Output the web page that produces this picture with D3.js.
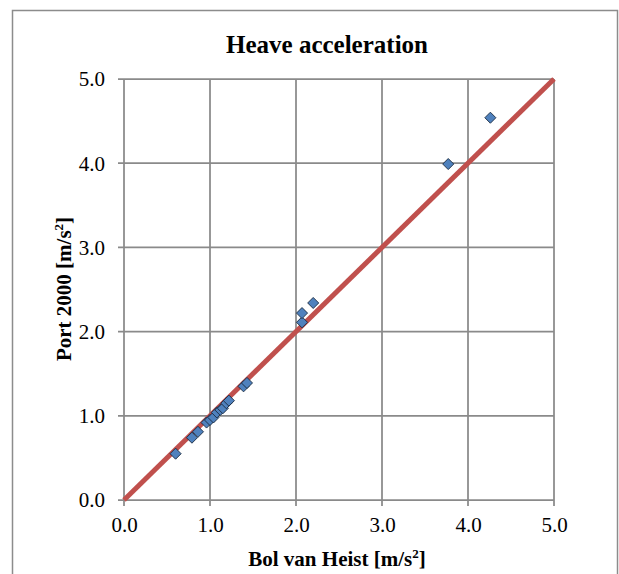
<!DOCTYPE html>
<html>
<head>
<meta charset="utf-8">
<script src="https://cdn.jsdelivr.net/npm/d3@7"></script>
<style>
  html, body { margin: 0; padding: 0; background: #fff; }
  svg { display: block; }
  text { font-family: "Liberation Serif", "Times New Roman", serif; fill: #000; }
</style>
</head>
<body>
<svg id="chart" width="619" height="574"></svg>
<script>
// Measured heave accelerations [m/s²]: Bol van Heist (x) vs Port 2000 (y)
const bolVanHeist = [0.60, 0.79, 0.86, 0.96, 1.00, 1.04, 1.08, 1.12, 1.15, 1.19, 1.22, 1.39, 1.43, 2.07, 2.07, 2.20, 3.77, 4.26];
const port2000    = [0.55, 0.74, 0.81, 0.92, 0.95, 0.98, 1.04, 1.07, 1.09, 1.15, 1.18, 1.35, 1.39, 2.11, 2.22, 2.34, 3.99, 4.54];
// Line of equality y = x
const equalityLine = [[0, 0], [5, 5]];
const tickValues = [0, 1, 2, 3, 4, 5];

const title = "Heave acceleration";
const xTitle = "Bol van Heist [m/s";
const yTitle = "Port 2000 [m/s";

const svg = d3.select("#chart");
const plot = { left: 124, right: 554, top: 79, bottom: 500 };

const x = d3.scaleLinear().domain([0, 5]).range([plot.left, plot.right]);
const y = d3.scaleLinear().domain([0, 5]).range([plot.bottom, plot.top]);

const gridColor = "#8a8a8a";

// Chart frame
svg.append("rect")
  .attr("x", 12.5).attr("y", 10.5)
  .attr("width", 605).attr("height", 600)
  .attr("fill", "none").attr("stroke", "#8c8c8c").attr("stroke-width", 1.5);

// Gridlines
const grid = svg.append("g");
grid.selectAll(".gx").data(tickValues).join("line")
  .attr("x1", d => x(d)).attr("x2", d => x(d))
  .attr("y1", plot.top).attr("y2", plot.bottom + 6)
  .attr("stroke", gridColor).attr("stroke-width", 1.75);
grid.selectAll(".gy").data(tickValues).join("line")
  .attr("x1", plot.left - 6).attr("x2", plot.right)
  .attr("y1", d => y(d)).attr("y2", d => y(d))
  .attr("stroke", gridColor).attr("stroke-width", 1.75);

// Axes (tick labels only; lines come from grid)
const fmt = d3.format(".1f");
const xAxis = svg.append("g")
  .attr("transform", `translate(0,${plot.bottom})`)
  .call(d3.axisBottom(x).tickValues(tickValues).tickFormat(fmt).tickSize(0).tickPadding(0));
xAxis.select(".domain").remove();
xAxis.selectAll("text").attr("y", 32).attr("dy", 0)
  .style("font-size", "21px").attr("fill", "#000");

const yAxis = svg.append("g")
  .attr("transform", `translate(${plot.left},0)`)
  .call(d3.axisLeft(y).tickValues(tickValues).tickFormat(fmt).tickSize(0).tickPadding(0));
yAxis.select(".domain").remove();
yAxis.selectAll("text").attr("x", -19).attr("dy", "0.33em")
  .style("font-size", "21px").attr("fill", "#000");

// Equality line
svg.append("path")
  .datum(equalityLine)
  .attr("d", d3.line().x(d => x(d[0])).y(d => y(d[1])))
  .attr("stroke", "#c0504d").attr("stroke-width", 5).attr("fill", "none");

// Data markers (diamonds)
const diamond = d3.symbol().type(d3.symbolDiamond2).size(78);
svg.append("g").selectAll("path")
  .data(bolVanHeist.map((v, i) => [v, port2000[i]]))
  .join("path")
  .attr("transform", d => `translate(${x(d[0])},${y(d[1])})`)
  .attr("d", diamond)
  .attr("fill", "#4f81bd")
  .attr("stroke", "#1a2a40").attr("stroke-width", 0.9);

// Titles
svg.append("text")
  .attr("x", 327).attr("y", 53)
  .attr("text-anchor", "middle")
  .style("font-size", "25px").style("font-weight", "bold")
  .text(title);

const xt = svg.append("text")
  .attr("x", (plot.left + plot.right) / 2 - 2).attr("y", 566)
  .attr("text-anchor", "middle")
  .style("font-size", "21px").style("font-weight", "bold");
xt.append("tspan").text(xTitle);
xt.append("tspan").attr("dy", -8).style("font-size", "13px").text("2");
xt.append("tspan").attr("dy", 8).text("]");

const yt = svg.append("text")
  .attr("transform", "translate(71,289) rotate(-90)")
  .attr("text-anchor", "middle")
  .style("font-size", "21px").style("font-weight", "bold");
yt.append("tspan").text(yTitle);
yt.append("tspan").attr("dy", -8).style("font-size", "13px").text("2");
yt.append("tspan").attr("dy", 8).text("]");
</script>
</body>
</html>
